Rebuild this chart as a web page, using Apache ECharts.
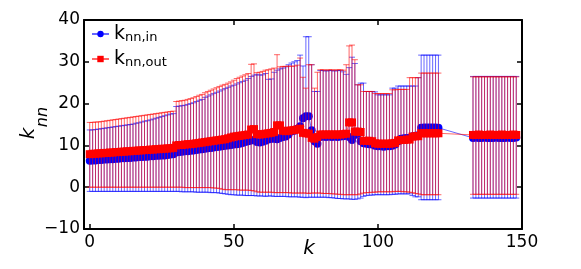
<!DOCTYPE html>
<html>
<head>
<meta charset="utf-8">
<script src="https://cdn.jsdelivr.net/npm/echarts@6/dist/echarts.min.js"></script>
<style>html,body{margin:0;padding:0;background:#fff}#c{width:581px;height:269px}</style>
</head>
<body>
<div id="c"></div>
<script>
// Degree k (x positions)
const kVals = [0,1,2,3,4,5,6,7,8,9,10,11,12,13,14,15,16,17,18,19,20,21,22,23,24,25,26,27,28,29,
30,31,32,33,34,35,36,37,38,39,40,41,42,43,44,45,46,47,48,49,50,51,52,53,54,55,56,57,58,59,
60,61,62,63,64,65,66,67,68,69,70,71,72,73,74,75,76,77,78,79,80,81,82,83,84,85,86,87,88,89,
90,91,92,93,94,95,96,97,98,99,100,101,102,103,104,105,106,107,108,109,110,111,112,113,114,115,116,117,118,119,
120,121,133,134,135,136,137,138,139,140,141,142,143,144,145,146,147,148];

// k_nn,in : mean, lower and upper end of error bar
const inMean = [6.3,6.4,6.4,6.5,6.5,6.6,6.6,6.7,6.7,6.8,
6.8,6.9,6.9,7.0,7.0,7.1,7.1,7.2,7.2,7.3,
7.3,7.4,7.4,7.5,7.5,7.6,7.6,7.7,7.8,7.9,
8.3,8.4,8.5,8.6,8.6,8.7,8.8,8.9,9.0,9.1,
9.2,9.3,9.4,9.5,9.6,9.7,9.8,9.9,10.0,10.1,
10.2,10.3,10.4,10.6,10.8,11.0,11.2,11.3,10.8,10.7,
10.9,11.1,11.4,11.6,11.6,11.5,11.8,12.0,12.1,12.6,
13.4,13.5,14.0,14.6,16.5,17.0,17.0,13.6,11.0,10.4,
12.0,12.1,12.0,12.1,12.0,12.1,12.0,12.1,12.2,12.3,
12.0,11.3,12.5,12.8,11.0,10.5,10.4,10.3,10.2,9.9,
9.8,9.8,9.7,9.8,9.8,9.9,10.2,11.0,11.6,11.7,
11.8,11.8,12.2,12.3,12.4,14.2,14.3,14.3,14.3,14.3,
14.3,14.2,
11.8,11.9,11.8,11.8,11.9,11.8,11.8,11.8,11.9,11.8,11.8,11.8,11.9,11.8,11.8,11.9];
const inLow = [-1.0,-1.0,-1.0,-1.0,-1.0,-1.0,-1.0,-1.0,-1.0,-1.0,
-1.0,-1.0,-1.0,-1.0,-1.0,-1.0,-1.0,-1.0,-1.0,-1.0,
-1.0,-1.0,-1.0,-1.0,-1.0,-1.0,-1.0,-1.0,-1.0,-1.0,
-1.0,-1.0,-1.1,-1.1,-1.1,-1.1,-1.1,-1.2,-1.2,-1.2,
-1.2,-1.2,-1.3,-1.3,-1.3,-1.4,-1.5,-1.6,-1.7,-1.8,
-1.8,-1.9,-1.9,-1.9,-2.0,-2.0,-2.0,-2.0,-2.1,-2.1,
-2.1,-2.2,-2.1,-2.1,-2.2,-2.2,-2.2,-2.2,-2.2,-2.3,
-2.3,-2.3,-2.3,-2.4,-2.4,-2.5,-2.4,-2.4,-2.4,-2.4,
-2.4,-2.4,-2.4,-2.5,-2.5,-2.6,-2.7,-2.7,-2.8,-2.8,
-2.8,-2.9,-2.9,-2.8,-2.6,-2.2,-2.0,-1.9,-1.9,-1.8,
-1.8,-1.8,-1.8,-1.8,-1.8,-1.7,-1.7,-1.6,-1.6,-1.6,
-1.6,-1.6,-2.0,-2.3,-2.3,-3.0,-3.0,-3.0,-3.0,-3.0,
-3.0,-3.0,
-2.6,-2.6,-2.6,-2.6,-2.6,-2.6,-2.6,-2.6,-2.6,-2.6,-2.6,-2.6,-2.6,-2.6,-2.6,-2.6];
const inHigh = [13.7,13.7,13.8,13.9,14.0,14.1,14.2,14.3,14.4,14.5,
14.6,14.7,14.8,14.9,15.0,15.1,15.3,15.4,15.6,15.8,
15.9,16.1,16.3,16.5,16.7,16.9,17.1,17.3,17.5,17.6,
19.3,19.4,19.5,19.6,19.8,20.0,20.2,20.5,20.8,21.0,
21.5,21.8,22.1,22.4,22.7,23.0,23.3,23.6,23.9,24.2,
24.4,24.7,25.0,25.3,25.6,26.0,26.5,26.8,27.0,26.8,
26.9,27.2,25.8,25.9,27.5,28.0,28.3,28.5,28.8,29.3,
29.7,30.0,30.3,31.6,29.0,36.0,36.0,29.3,22.9,22.9,
27.9,27.9,27.8,27.9,27.9,27.8,27.9,27.9,27.6,27.0,
28.6,31.1,29.6,24.5,24.9,24.9,22.9,22.9,22.9,22.8,
22.1,22.1,22.1,22.1,22.1,23.7,23.7,24.2,24.2,24.2,
24.2,24.2,24.2,24.2,26.2,31.6,31.6,31.6,31.6,31.6,
31.6,31.6,
26.5,26.5,26.5,26.5,26.5,26.5,26.5,26.5,26.5,26.5,26.5,26.5,26.5,26.5,26.5,26.5];

// k_nn,out : mean, lower and upper end of error bar
const outMean = [7.9,8.0,8.0,8.1,8.1,8.2,8.2,8.3,8.3,8.4,
8.4,8.5,8.5,8.6,8.6,8.7,8.7,8.8,8.8,8.9,
8.9,9.0,9.0,9.1,9.1,9.2,9.2,9.3,9.3,9.4,
10.0,10.1,10.1,10.2,10.3,10.3,10.4,10.5,10.6,10.7,
10.8,10.9,11.0,11.1,11.2,11.3,11.4,11.5,11.7,11.9,
12.1,12.2,12.3,12.4,12.5,12.6,13.8,13.9,12.7,12.6,
12.7,12.8,12.9,13.0,13.2,14.8,14.8,13.5,13.4,13.5,
13.6,13.7,13.8,14.0,13.0,12.9,12.8,11.8,11.6,12.0,
12.6,12.6,12.6,12.6,12.6,12.6,12.6,12.6,12.7,12.8,
15.5,15.5,13.3,13.3,13.2,11.1,11.1,11.1,11.0,10.5,
10.4,10.4,10.4,10.4,10.4,10.5,10.6,11.2,11.3,11.3,
11.4,11.4,12.1,12.2,12.2,12.9,12.9,12.9,12.9,12.9,
12.9,12.9,
12.5,12.5,12.6,12.5,12.5,12.5,12.6,12.5,12.5,12.5,12.6,12.5,12.5,12.5,12.6,12.5];
const outLow = [0.0,0.0,0.0,0.0,0.0,0.0,0.0,0.0,0.0,0.0,
0.0,0.0,0.0,0.0,0.0,0.0,0.0,0.0,0.0,0.0,
0.0,0.0,0.0,0.0,0.0,0.0,0.0,0.0,0.0,0.0,
0.0,0.0,0.0,-0.1,-0.1,-0.1,-0.1,-0.1,-0.1,-0.1,
-0.1,-0.1,-0.1,-0.2,-0.2,-0.3,-0.5,-0.6,-0.6,-0.6,
-0.6,-0.6,-0.7,-0.7,-0.7,-0.7,-0.8,-0.9,-1.1,-1.2,
-1.2,-1.2,-1.2,-1.2,-1.3,-1.3,-1.3,-1.3,-1.3,-1.3,
-1.4,-1.4,-1.4,-1.4,-1.4,-1.4,-1.5,-1.4,-1.4,-1.4,
-1.4,-1.5,-1.5,-1.5,-1.6,-1.6,-1.7,-1.7,-1.8,-1.8,
-1.8,-1.8,-1.8,-1.8,-1.6,-1.4,-1.3,-1.3,-1.2,-1.2,
-1.1,-1.1,-1.1,-1.1,-1.1,-1.1,-1.0,-1.0,-1.0,-1.1,
-1.1,-1.2,-1.3,-1.5,-1.6,-1.8,-1.8,-1.8,-1.8,-1.8,
-1.8,-1.8,
-1.7,-1.7,-1.7,-1.7,-1.7,-1.7,-1.7,-1.7,-1.7,-1.7,-1.7,-1.7,-1.7,-1.7,-1.7,-1.7];
const outHigh = [15.5,15.5,15.6,15.6,15.7,15.8,15.9,16.0,16.1,16.2,
16.3,16.4,16.5,16.6,16.7,16.8,16.9,17.0,17.1,17.2,
17.3,17.4,17.5,17.6,17.7,17.8,17.9,18.0,18.1,18.2,
20.5,20.6,20.7,20.8,21.0,21.2,21.4,21.7,22.0,22.2,
22.6,22.9,23.2,23.5,23.8,24.1,24.4,24.6,24.9,25.2,
25.6,26.0,26.3,26.6,26.9,27.2,29.4,29.5,27.4,27.5,
27.7,28.0,28.1,28.3,28.5,31.7,28.8,28.9,28.9,29.0,
28.9,29.0,29.2,30.9,26.3,23.7,29.3,29.3,23.7,27.5,
28.1,28.1,28.0,28.1,28.1,28.0,28.1,28.1,28.0,29.3,
33.8,34.0,30.5,24.5,24.5,22.9,22.9,22.9,22.9,22.4,
22.4,22.4,22.4,22.4,22.4,23.3,23.3,23.4,23.4,23.4,
23.4,26.2,26.2,26.2,26.2,27.3,27.3,27.3,27.3,27.3,
27.3,27.3,
26.4,26.4,26.4,26.4,26.4,26.4,26.4,26.4,26.4,26.4,26.4,26.4,26.4,26.4,26.4,26.4];

const xTicks = [0, 50, 100, 150];
const xTopTicks = [50, 100];

const FONT = 'DejaVu Sans';
const chart = echarts.init(document.getElementById('c'), null, {renderer: 'canvas'});

function errSeries(low, high, color, z) {
  return {
    type: 'custom',
    xAxisIndex: 0, yAxisIndex: 0,
    z: z,
    silent: true,
    clip: true,
    encode: {x: 0, y: [1, 2]},
    data: kVals.map((k, i) => [k, low[i], high[i]]),
    renderItem: function (params, api) {
      const x = api.value(0);
      const lo = api.coord([x, api.value(1)]);
      const hi = api.coord([x, api.value(2)]);
      const cw = 3;
      const st = {stroke: color, lineWidth: 1, fill: null};
      return {
        type: 'group',
        children: [
          {type: 'line', shape: {x1: lo[0], y1: lo[1], x2: hi[0], y2: hi[1]}, style: st},
          {type: 'line', shape: {x1: hi[0] - cw, y1: hi[1], x2: hi[0] + cw, y2: hi[1]}, style: st},
          {type: 'line', shape: {x1: lo[0] - cw, y1: lo[1], x2: lo[0] + cw, y2: lo[1]}, style: st}
        ]
      };
    }
  };
}

const legendRich = {
  k: {fontFamily: FONT, fontSize: 19, lineHeight: 20, color: '#000', verticalAlign: 'bottom'},
  s: {fontFamily: FONT, fontSize: 13, lineHeight: 14, color: '#000', verticalAlign: 'bottom'}
};

const option = {
  animation: false,
  backgroundColor: '#fff',
  grid: {left: 84, right: 59, top: 20, bottom: 40, containLabel: false},
  legend: {
    orient: 'vertical',
    left: 91, top: 25,
    padding: 0,
    itemGap: 6,
    itemWidth: 17, itemHeight: 8,
    data: ['in', 'out'],
    formatter: function (name) {
      return name === 'in' ? '{k|k}{s|nn,in}' : '{k|k}{s|nn,out}';
    },
    textStyle: {rich: legendRich, padding: [0, 0, 0, 0]}
  },
  xAxis: [{
    type: 'value', min: -2, max: 150, position: 'bottom',
    axisLine: {show: true, onZero: false, lineStyle: {color: '#000', width: 2}},
    axisTick: {show: true, inside: true, length: 5, lineStyle: {color: '#000', width: 1.5}, customValues: xTicks},
    axisLabel: {show: true, customValues: xTicks, fontFamily: FONT, fontSize: 17, color: '#000', margin: 5},
    splitLine: {show: false}
  }, {
    type: 'value', min: -2, max: 150, position: 'top',
    axisLine: {show: true, onZero: false, lineStyle: {color: '#000', width: 2}},
    axisTick: {show: true, inside: true, length: 5, lineStyle: {color: '#000', width: 1.5}, customValues: xTopTicks},
    axisLabel: {show: false},
    splitLine: {show: false}
  }],
  yAxis: [{
    type: 'value', min: -10, max: 40, interval: 10, position: 'left',
    axisLine: {show: true, onZero: false, lineStyle: {color: '#000', width: 2}},
    axisTick: {show: true, inside: true, length: 5, lineStyle: {color: '#000', width: 1.5}},
    axisLabel: {fontFamily: FONT, fontSize: 17, color: '#000', margin: 4,
      formatter: v => String(v).replace('-', '\u2212')},
    splitLine: {show: false}
  }, {
    type: 'value', min: -10, max: 40, interval: 10, position: 'right',
    axisLine: {show: true, onZero: false, lineStyle: {color: '#000', width: 2}},
    axisTick: {show: true, inside: true, length: 5, lineStyle: {color: '#000', width: 1.5}},
    axisLabel: {show: false},
    splitLine: {show: false}
  }],
  graphic: [
    {type: 'text', x: 309, y: 249, style: {text: 'k', font: 'italic 20px "DejaVu Sans"', fill: '#000', align: 'center', verticalAlign: 'middle'}},
    {type: 'text', x: 28.7, y: 133.5, rotation: Math.PI / 2, style: {text: 'k', font: 'italic 20px "DejaVu Sans"', fill: '#000', align: 'center', verticalAlign: 'middle'}},
    {type: 'text', x: 42.4, y: 117, rotation: Math.PI / 2, style: {text: 'nn', font: 'italic 16px "DejaVu Sans"', fill: '#000', align: 'center', verticalAlign: 'middle'}}
  ],
  series: [
    errSeries(inLow, inHigh, 'rgba(0,0,255,0.6)', 2),
    {
      name: 'in', type: 'line', z: 3,
      data: kVals.map((k, i) => [k, inMean[i]]),
      symbol: 'circle', symbolSize: 8,
      itemStyle: {color: '#0000ff'},
      lineStyle: {color: 'rgba(0,0,255,0.6)', width: 1},
      emphasis: {disabled: true}
    },
    errSeries(outLow, outHigh, 'rgba(255,0,0,0.6)', 4),
    {
      name: 'out', type: 'line', z: 5,
      data: kVals.map((k, i) => [k, outMean[i]]),
      symbol: 'rect', symbolSize: 8,
      itemStyle: {color: '#ff0000'},
      lineStyle: {color: 'rgba(255,0,0,0.6)', width: 1},
      emphasis: {disabled: true}
    }
  ]
};
chart.setOption(option);
</script>
</body>
</html>
